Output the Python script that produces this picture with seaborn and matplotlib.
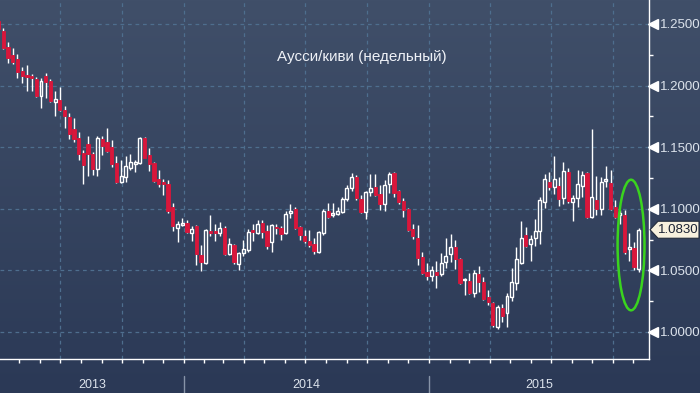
import numpy as np
import pandas as pd
import matplotlib
matplotlib.use("Agg")
import matplotlib.pyplot as plt
import matplotlib.dates as mdates
import seaborn as sns
from matplotlib.patches import Ellipse, Polygon
from matplotlib.transforms import blended_transform_factory, IdentityTransform, offset_copy

# ---------------- data (weekly AUD/NZD candles) ----------------
dates = pd.date_range("2013-04-01", periods=137, freq="7D")

opens = [1.2524, 1.2443, 1.2313, 1.2248, 1.2216, 1.2119, 1.2086, 1.2070, 1.2054, 1.1916,
         1.2078, 1.2037, 1.1867, 1.1883, 1.1802, 1.1745, 1.1648, 1.1575, 1.1453, 1.1526,
         1.1445, 1.1323, 1.1567, 1.1542, 1.1502, 1.1372, 1.1218, 1.1258, 1.1331, 1.1364,
         1.1372, 1.1575, 1.1437, 1.1372, 1.1242, 1.1218, 1.1201, 1.1015, 1.0844, 1.0869,
         1.0885, 1.0804, 1.0860, 1.0625, 1.0560, 1.0812, 1.0812, 1.0804, 1.0844, 1.0633,
         1.0706, 1.0552, 1.0641, 1.0666, 1.0828, 1.0804, 1.0885, 1.0820, 1.0731, 1.0852,
         1.0844, 1.0804, 1.0966, 1.0998, 1.0852, 1.0779, 1.0739, 1.0714, 1.0649, 1.0804,
         1.0982, 1.0950, 1.0958, 1.0974, 1.1080, 1.1169, 1.1258, 1.1080, 1.0974, 1.1136,
         1.1177, 1.1120, 1.1039, 1.1201, 1.1291, 1.1144, 1.1063, 1.0998, 1.0836, 1.0763,
         1.0609, 1.0487, 1.0455, 1.0487, 1.0471, 1.0568, 1.0633, 1.0690, 1.0593, 1.0422,
         1.0414, 1.0317, 1.0471, 1.0406, 1.0284, 1.0235, 1.0041, 1.0195, 1.0154, 1.0284,
         1.0398, 1.0560, 1.0787, 1.0714, 1.0763, 1.0820, 1.1055, 1.1218, 1.1177, 1.1185,
         1.1088, 1.1299, 1.1055, 1.1088, 1.1185, 1.1291, 1.0933, 1.1071, 1.0998, 1.1226,
         1.1209, 1.1015, 1.0950, 1.0950, 1.0674, 1.0682, 1.0511]
highs = [1.2545, 1.2468, 1.2354, 1.2305, 1.2256, 1.2151, 1.2167, 1.2094, 1.2070, 1.2062,
         1.2102, 1.2054, 1.1956, 1.1989, 1.1834, 1.1778, 1.1737, 1.1623, 1.1477, 1.1591,
         1.1461, 1.1591, 1.1591, 1.1656, 1.1558, 1.1429, 1.1396, 1.1429, 1.1445, 1.1396,
         1.1583, 1.1583, 1.1494, 1.1380, 1.1315, 1.1242, 1.1234, 1.1047, 1.0901, 1.0925,
         1.0909, 1.0860, 1.0869, 1.0706, 1.0836, 1.0950, 1.0877, 1.0893, 1.0860, 1.0763,
         1.0714, 1.0649, 1.0747, 1.0836, 1.0877, 1.0909, 1.0909, 1.0869, 1.0877, 1.0877,
         1.0860, 1.0982, 1.1039, 1.1015, 1.0860, 1.0828, 1.0828, 1.0763, 1.0820, 1.0998,
         1.1047, 1.1047, 1.1015, 1.1096, 1.1193, 1.1291, 1.1274, 1.1112, 1.1144, 1.1282,
         1.1282, 1.1193, 1.1234, 1.1299, 1.1299, 1.1153, 1.1088, 1.1006, 1.0877, 1.0869,
         1.0649, 1.0560, 1.0536, 1.0576, 1.0641, 1.0763, 1.0795, 1.0747, 1.0601, 1.0438,
         1.0479, 1.0503, 1.0536, 1.0446, 1.0341, 1.0244, 1.0219, 1.0227, 1.0317, 1.0519,
         1.0690, 1.0901, 1.0852, 1.0787, 1.0917, 1.1096, 1.1282, 1.1299, 1.1429, 1.1258,
         1.1380, 1.1331, 1.1112, 1.1315, 1.1307, 1.1299, 1.1648, 1.1266, 1.1258, 1.1347,
         1.1315, 1.1071, 1.0990, 1.0990, 1.0804, 1.0731, 1.0844]
lows = [1.2443, 1.2297, 1.2183, 1.2175, 1.2062, 1.2021, 1.1956, 1.1956, 1.1907, 1.1818,
        1.1899, 1.1867, 1.1753, 1.1794, 1.1656, 1.1567, 1.1542, 1.1396, 1.1201, 1.1266,
        1.1274, 1.1266, 1.1437, 1.1461, 1.1339, 1.1209, 1.1209, 1.1218, 1.1315, 1.1299,
        1.1364, 1.1412, 1.1307, 1.1218, 1.1177, 1.1112, 1.0966, 1.0820, 1.0731, 1.0860,
        1.0804, 1.0739, 1.0544, 1.0495, 1.0552, 1.0779, 1.0739, 1.0779, 1.0625, 1.0625,
        1.0552, 1.0503, 1.0617, 1.0649, 1.0739, 1.0795, 1.0763, 1.0674, 1.0649, 1.0795,
        1.0747, 1.0795, 1.0925, 1.0836, 1.0747, 1.0722, 1.0690, 1.0633, 1.0641, 1.0787,
        1.0925, 1.0933, 1.0950, 1.0966, 1.1063, 1.1144, 1.1071, 1.0966, 1.0917, 1.1104,
        1.1104, 1.0990, 1.0982, 1.1128, 1.1096, 1.1039, 1.0933, 1.0820, 1.0755, 1.0544,
        1.0471, 1.0422, 1.0414, 1.0357, 1.0455, 1.0519, 1.0568, 1.0511, 1.0390, 1.0300,
        1.0308, 1.0284, 1.0325, 1.0260, 1.0219, 1.0041, 1.0024, 1.0081, 1.0041, 1.0252,
        1.0341, 1.0552, 1.0690, 1.0576, 1.0698, 1.0714, 1.1006, 1.1153, 1.1120, 1.1023,
        1.1039, 1.1047, 1.0901, 1.1015, 1.1096, 1.0925, 1.0925, 1.0950, 1.0950, 1.1177,
        1.0990, 1.0925, 1.0877, 1.0633, 1.0576, 1.0503, 1.0487]
closes = [1.2459, 1.2305, 1.2224, 1.2192, 1.2110, 1.2078, 1.2070, 1.2062, 1.1916, 1.2037,
          1.2029, 1.1875, 1.1891, 1.1802, 1.1753, 1.1607, 1.1567, 1.1445, 1.1356, 1.1445,
          1.1323, 1.1575, 1.1510, 1.1469, 1.1364, 1.1218, 1.1266, 1.1347, 1.1380, 1.1380,
          1.1575, 1.1412, 1.1364, 1.1226, 1.1201, 1.1201, 1.0982, 1.0860, 1.0877, 1.0877,
          1.0812, 1.0836, 1.0633, 1.0568, 1.0828, 1.0804, 1.0804, 1.0844, 1.0633, 1.0714,
          1.0568, 1.0641, 1.0674, 1.0812, 1.0812, 1.0877, 1.0812, 1.0698, 1.0869, 1.0844,
          1.0795, 1.0958, 1.0982, 1.0844, 1.0787, 1.0739, 1.0706, 1.0657, 1.0812, 1.0982,
          1.0933, 1.0958, 1.0982, 1.1080, 1.1169, 1.1258, 1.1088, 1.0974, 1.1136, 1.1169,
          1.1112, 1.1039, 1.1193, 1.1282, 1.1128, 1.1055, 1.0990, 1.0828, 1.0779, 1.0601,
          1.0479, 1.0455, 1.0503, 1.0463, 1.0560, 1.0617, 1.0690, 1.0593, 1.0398, 1.0430,
          1.0317, 1.0479, 1.0406, 1.0268, 1.0244, 1.0057, 1.0203, 1.0130, 1.0292, 1.0406,
          1.0593, 1.0763, 1.0698, 1.0755, 1.0820, 1.1071, 1.1242, 1.1177, 1.1242, 1.1080,
          1.1307, 1.1063, 1.1088, 1.1201, 1.1274, 1.0933, 1.1096, 1.0998, 1.1218, 1.1234,
          1.0998, 1.0933, 1.0966, 1.0649, 1.0690, 1.0528, 1.0830]

title = "Аусси/киви (недельный)"
year_labels = ["2013", "2014", "2015"]
year_starts = ["2014-01-01", "2015-01-01"]
price_ticks = [1.00, 1.05, 1.10, 1.15, 1.20, 1.25]
minor_price_ticks = [1.025, 1.075, 1.125, 1.175, 1.225]
last_price_label = "1.0830"

# ---------------- style ----------------
sns.set_theme(style="dark", rc={"axes.facecolor": "none", "figure.facecolor": "#2f3d59"})
plt.rcParams["font.family"] = ["Liberation Sans", "DejaVu Sans"]

W, H = 700, 393
fig = plt.figure(figsize=(W / 100, H / 100), dpi=100)

# gradient background
bg = fig.add_axes([0, 0, 1, 1], zorder=0)
top = np.array([0x40, 0x4f, 0x69]) / 255
bot = np.array([0x2b, 0x39, 0x56]) / 255
t = np.linspace(0, 1, 256)[:, None]
grad = (top[None, :] * (1 - t) + bot[None, :] * t)[:, None, :]
bg.imshow(grad, aspect="auto", extent=[0, 1, 0, 1])
bg.set_axis_off()

ax = fig.add_axes([0, (H - 359) / H, 649 / W, 359 / H], zorder=1)
ax.set_facecolor("none")

df = pd.DataFrame({"date": dates, "open": opens, "high": highs, "low": lows, "close": closes})
df["x"] = mdates.date2num(df["date"])
df["up"] = df["close"] >= df["open"]
df["body_lo"] = df[["open", "close"]].min(axis=1)
df["body_hi"] = df[["open", "close"]].max(axis=1)
df["body_h"] = (df["body_hi"] - df["body_lo"]).clip(lower=0.0012)

RED = "#d9163b"
# wicks (above and below body)
ax.vlines(df["x"], df["body_hi"], df["high"], color="white", lw=1.0, zorder=2)
ax.vlines(df["x"], df["low"], df["body_lo"], color="white", lw=1.0, zorder=2)

up = df[df["up"]]
dn = df[~df["up"]]
ax.bar(up["x"], up["body_h"], bottom=up["body_lo"], width=4.4, facecolor="none",
       edgecolor="white", linewidth=1.0, zorder=3)
ax.bar(dn["x"], dn["body_h"], bottom=dn["body_lo"], width=4.8, facecolor=RED,
       edgecolor=RED, linewidth=0.6, zorder=3)

# limits
x0 = mdates.date2num(pd.Timestamp("2013-04-03"))
x1 = x0 + 649 / 0.6724
ax.set_xlim(x0, x1)
ax.set_ylim(0.97808, 1.26948)

# grid
GRID = "#4e6e8e"
ax.xaxis.set_major_locator(mdates.MonthLocator(bymonth=[1, 4, 7, 10]))
ax.xaxis.set_minor_locator(mdates.MonthLocator())
ax.xaxis.set_major_formatter(matplotlib.ticker.NullFormatter())
ax.grid(True, which="major", axis="both", color=GRID, linestyle=(0, (3, 3)), lw=0.9)
ax.tick_params(axis="x", which="both", direction="out", length=3, width=1,
               color="white", bottom=True)

# right price axis
ax.yaxis.tick_right()
ax.set_yticks(price_ticks)
ax.set_yticklabels([f"{v:.4f}" for v in price_ticks])
ax.set_yticks(minor_price_ticks, minor=True)
ax.tick_params(axis="y", which="major", length=0, pad=8, labelsize=9.5,
               labelcolor="#dce3ec", right=True, left=False)
ax.tick_params(axis="y", which="minor", length=3, width=1, color="white",
               direction="out", right=True, left=False)

for s in ["top", "left"]:
    ax.spines[s].set_visible(False)
for s in ["right", "bottom"]:
    ax.spines[s].set_visible(True)
    ax.spines[s].set_color("white")
    ax.spines[s].set_linewidth(1.0)

# triangle markers at major price ticks
tri_tr = offset_copy(blended_transform_factory(ax.transAxes, ax.transData),
                     fig=fig, x=4, y=0, units="dots")
ax.plot([1.0] * len(price_ticks), price_ticks, linestyle="none", marker="<",
        markersize=6.5, color="white", transform=tri_tr, clip_on=False, zorder=5)

# year labels + separators
sep_tr = blended_transform_factory(ax.transData, fig.transFigure)
bounds = [x0] + [mdates.date2num(pd.Timestamp(d)) for d in year_starts] + [x1]
for d in year_starts:
    xd = mdates.date2num(pd.Timestamp(d))
    ax.plot([xd, xd], [0, (H - 376) / H], color="#8794a8", lw=1.0,
            transform=sep_tr, clip_on=False)
for i, lab in enumerate(year_labels):
    xm = (bounds[i] + bounds[i + 1]) / 2
    ax.text(xm, (H - 385) / H, lab, transform=sep_tr, ha="center", va="center",
            fontsize=9, color="#dce3ec")

# title
fig.text(362 / W, 1 - 57 / H, title, ha="center", va="center", fontsize=11,
         color="#eef1f6")

# green ellipse around last candles
ell = Ellipse((df["x"].iloc[134] + 2.5, 1.0706), width=40, height=0.106,
              fill=False, edgecolor="#3ad41e", lw=1.8, zorder=6, clip_on=False)
ax.add_patch(ell)

# last price tag
yd = ax.transData.transform((df["x"].iloc[-1], closes[-1]))[1]
tag = Polygon([(650, yd), (658, yd + 8.5), (699, yd + 8.5), (699, yd - 8.5), (658, yd - 8.5)],
              closed=True, facecolor="#f7f0dd", edgecolor="#222a3a", lw=0.8,
              transform=IdentityTransform(), zorder=10)
fig.add_artist(tag)
fig.text(678.5, yd, last_price_label, transform=IdentityTransform(), ha="center",
         va="center", fontsize=9.5, color="#1b2233", zorder=11)

fig.savefig("out.png", dpi=100)
